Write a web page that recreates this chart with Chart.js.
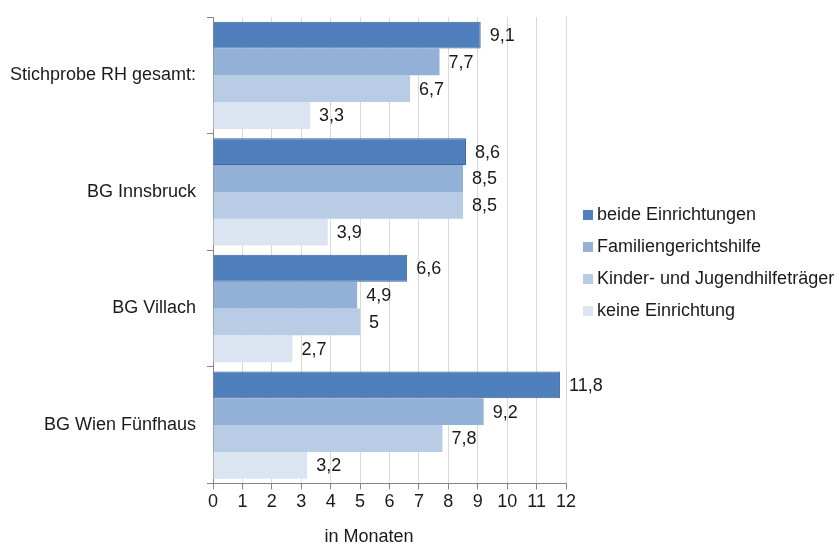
<!DOCTYPE html>
<html>
<head>
<meta charset="utf-8">
<script src="https://cdn.jsdelivr.net/npm/chart.js@4"></script>
<style>
  html, body { margin: 0; padding: 0; background: #fff; }
  #wrap { width: 839px; height: 546px; }
</style>
</head>
<body>
<div id="wrap"><canvas id="chart" width="839" height="546"></canvas></div>
<script>
// categories and series
const categories = ['Stichprobe RH gesamt:', 'BG Innsbruck', 'BG Villach', 'BG Wien Fünfhaus'];
const beideEinrichtungen = [9.1, 8.6, 6.6, 11.8];
const familiengerichtshilfe = [7.7, 8.5, 4.9, 9.2];
const kinderJugendhilfe = [6.7, 8.5, 5, 7.8];
const keineEinrichtung = [3.3, 3.9, 2.7, 3.2];
const xTicks = [0, 1, 2, 3, 4, 5, 6, 7, 8, 9, 10, 11, 12];

const FONT = 'Arial, "Liberation Sans", sans-serif';
const SIZE = 18;

// value labels at the bar ends, with a comma as decimal sign
const valueLabels = {
  id: 'valueLabels',
  afterDatasetsDraw(chart) {
    const ctx = chart.ctx;
    ctx.save();
    ctx.font = SIZE + 'px ' + FONT;
    ctx.fillStyle = '#1a1a1a';
    ctx.textBaseline = 'middle';
    chart.data.datasets.forEach((ds, i) => {
      chart.getDatasetMeta(i).data.forEach((bar, j) => {
        ctx.fillText(String(ds.data[j]).replace('.', ','), bar.x + 9, bar.y + 1);
      });
    });
    ctx.restore();
  }
};

// legend on the right and axis title, placed like in the original
const sideLegend = {
  id: 'sideLegend',
  afterDraw(chart) {
    const ctx = chart.ctx;
    ctx.save();
    ctx.font = SIZE + 'px ' + FONT;
    ctx.textBaseline = 'middle';
    chart.data.datasets.forEach((ds, i) => {
      const y = 215 + i * 32;
      ctx.fillStyle = ds.backgroundColor;
      ctx.fillRect(583, y - 5, 10, 10);
      ctx.fillStyle = '#1a1a1a';
      ctx.fillText(ds.label, 597, y);
    });
    ctx.textAlign = 'center';
    ctx.fillText('in Monaten', 369, 537);
    ctx.restore();
  }
};

new Chart(document.getElementById('chart'), {
  type: 'bar',
  data: {
    labels: categories,
    datasets: [{
      label: 'beide Einrichtungen',
      data: beideEinrichtungen,
      backgroundColor: '#4f7fbc',
      borderColor: '#3d6596',
      borderWidth: 1
    }, {
      label: 'Familiengerichtshilfe',
      data: familiengerichtshilfe,
      backgroundColor: '#93b0d6'
    }, {
      label: 'Kinder- und Jugendhilfeträger',
      data: kinderJugendhilfe,
      backgroundColor: '#b8cce5'
    }, {
      label: 'keine Einrichtung',
      data: keineEinrichtung,
      backgroundColor: '#dbe5f1'
    }]
  },
  options: {
    indexAxis: 'y',
    responsive: false,
    animation: false,
    datasets: {
      bar: { categoryPercentage: 0.92, barPercentage: 1 }
    },
    layout: { padding: { left: 10, top: 17, right: 273, bottom: 31 } },
    plugins: {
      legend: { display: false },
      tooltip: { enabled: false }
    },
    scales: {
      x: {
        min: 0,
        max: 12,
        afterBuildTicks(scale) {
          scale.ticks = xTicks.map(v => ({ value: v }));
        },
        grid: { color: '#d9d9d9', tickColor: '#868686', tickLength: 6 },
        border: { color: '#868686' },
        ticks: { font: { family: FONT, size: SIZE }, color: '#1a1a1a', padding: 2 }
      },
      y: {
        afterFit(scale) {
          scale.width = 203;
          scale.paddingTop = 0;
          scale.paddingBottom = 0;
        },
        grid: { drawOnChartArea: false, tickColor: '#868686', tickLength: 6 },
        border: { color: '#868686' },
        ticks: { font: { family: FONT, size: SIZE }, color: '#1a1a1a', padding: 11 }
      }
    }
  },
  plugins: [valueLabels, sideLegend]
});
</script>
</body>
</html>
